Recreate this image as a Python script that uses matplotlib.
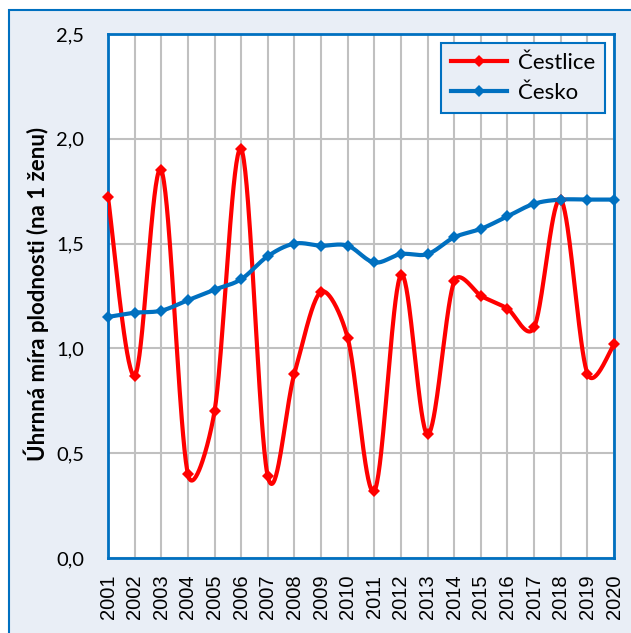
import numpy as np
import matplotlib
matplotlib.use("Agg")
import matplotlib.pyplot as plt
from matplotlib.patches import Rectangle

# data
years = list(range(2001, 2021))
cestlice = [1.72, 0.87, 1.85, 0.40, 0.70, 1.95, 0.39, 0.88, 1.27, 1.05,
            0.32, 1.35, 0.59, 1.32, 1.25, 1.19, 1.10, 1.71, 0.88, 1.02]
cesko = [1.15, 1.17, 1.18, 1.23, 1.28, 1.33, 1.44, 1.50, 1.49, 1.49,
         1.41, 1.45, 1.45, 1.53, 1.57, 1.63, 1.69, 1.71, 1.71, 1.71]
y_ticks = [0.0, 0.5, 1.0, 1.5, 2.0, 2.5]

RED = "#FF0000"
BLUE = "#0070C0"
BG = "#E9EEF6"
GRID = "#C0C0C0"


def smooth(ax, x, y, n=40):
    # Excel-like smoothed line: Bezier segments built in screen space,
    # control arms limited to half of the segment length
    pts = ax.transData.transform(np.column_stack([x, y]))
    m = len(pts)
    out = []
    for i in range(m - 1):
        p0 = pts[max(i - 1, 0)]
        p1 = pts[i]
        p2 = pts[i + 1]
        p3 = pts[min(i + 2, m - 1)]
        d12 = np.hypot(*(p2 - p1))
        d02 = np.hypot(*(p2 - p0))
        d13 = np.hypot(*(p3 - p1))
        f = 1 / 6
        if d02 > 0:
            f = min(f, d12 / (2 * d02))
        if d13 > 0:
            f = min(f, d12 / (2 * d13))
        c1 = p1 + f * (p2 - p0)
        c2 = p2 - f * (p3 - p1)
        t = np.linspace(0, 1, n)[:, None]
        seg = ((1 - t) ** 3 * p1 + 3 * (1 - t) ** 2 * t * c1
               + 3 * (1 - t) * t ** 2 * c2 + t ** 3 * p2)
        out.append(seg)
    out = np.vstack(out)
    d = ax.transData.inverted().transform(out)
    return d[:, 0], d[:, 1]


W, H = 631, 633
fig = plt.figure(figsize=(W / 100, H / 100), dpi=100)
fig.patch.set_facecolor("white")

# chart area background with blue frame (cropped on right/bottom)
fig.patches.append(Rectangle((9 / W, -0.05), 1.2, 1 - 10 / H + 0.05,
                             transform=fig.transFigure, facecolor=BG,
                             edgecolor=BLUE, linewidth=1.5, zorder=-10))

ax = fig.add_axes([108 / W, 1 - 558 / H, (614 - 108) / W, (558 - 34) / H])
ax.set_zorder(2)
ax.set_facecolor("white")
ax.set_xlim(2001, 2020)
ax.set_ylim(0, 2.5)

for name, vals, col in [("Čestlice", cestlice, RED), ("Česko", cesko, BLUE)]:
    sx, sy = smooth(ax, years, vals)
    ax.plot(sx, sy, color=col, lw=3, solid_capstyle="round", zorder=3)
    ax.plot(years, vals, ls="none", marker="D", ms=6.5, mew=0, color=col,
            zorder=4, clip_on=False)

# legend handles combining line and marker
h1, = ax.plot([], [], color=RED, lw=3, marker="D", ms=6.5, mew=0)
h2, = ax.plot([], [], color=BLUE, lw=3, marker="D", ms=6.5, mew=0)
leg = ax.legend([h1, h2], ["Čestlice", "Česko"], loc="upper right",
                bbox_to_anchor=(0.982, 0.983), frameon=True, fancybox=False,
                prop={"family": "Lato", "size": 16}, handlelength=2.5,
                borderpad=0.45, labelspacing=0.45, handletextpad=0.5,
                borderaxespad=0)
leg.get_frame().set_facecolor(BG)
leg.get_frame().set_edgecolor(BLUE)
leg.get_frame().set_linewidth(1.5)
leg.get_frame().set_alpha(1)
leg.set_zorder(10)

ax.set_xticks(years)
ax.set_xticklabels([str(y) for y in years], rotation=90,
                   family="Liberation Sans", fontsize=14.5)
ax.set_yticks(y_ticks)
ax.set_yticklabels([f"{v:.1f}".replace(".", ",") for v in y_ticks],
                   family="Lato", fontsize=14.5)
ax.tick_params(axis="both", length=0)
ax.tick_params(axis="y", pad=17)
ax.tick_params(axis="x", pad=12)
ax.grid(True, color=GRID, lw=1.5, zorder=1)
ax.set_axisbelow(True)
for s in ax.spines.values():
    s.set_color(BLUE)
    s.set_linewidth(2)

fig.text(36 / W, 1 - 294 / H, "Úhrnná míra plodnosti (na 1 ženu)",
         rotation=90, ha="center", va="center", family="Lato",
         fontweight="bold", fontsize=16)

fig.savefig("out.png", dpi=100)
